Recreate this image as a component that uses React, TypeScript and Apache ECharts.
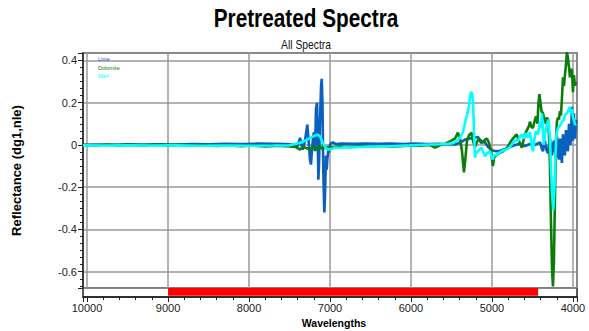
import React, { useEffect, useRef } from 'react';
import * as echarts from 'echarts';

const SANS = "'Liberation Sans', Arial, sans-serif";

const titleText = 'Pretreated Spectra';
const subtitleText = 'All Spectra';
const xName = 'Wavelengths';
const yName = 'Reflectance (dg1,nle)';

const seriesNames = ['Lime', 'Dolomite', 'Marl'];
const seriesColors = ['#0b5fbe', '#0a7d0a', '#00ffff'];
const xTicks = [10000, 9000, 8000, 7000, 6000, 5000, 4000];
const yTicks = [0.4, 0.2, 0, -0.2, -0.4, -0.6];
const xRange = [3950, 10050];
const yRange = [-0.677, 0.435];
const selectedRange = [9000, 4430];

const limeData = [
  [10050, 0.001], [9900, 0.002], [9700, 0.001], [9500, 0.003], [9300, 0.002], [9100, 0.003],
  [8900, 0.002], [8700, 0.004], [8500, 0.003], [8300, 0.005], [8100, 0.004], [7900, 0.006],
  [7700, 0.005], [7550, 0.004], [7450, 0.002], [7400, -0.006], [7385, 0.012], [7370, 0.034],
  [7355, 0.005], [7337, -0.022], [7320, 0.004], [7309, 0.02], [7290, 0.07], [7280, 0.096],
  [7262, 0.01], [7247, -0.07], [7235, -0.093], [7222, -0.02], [7210, 0.03], [7198, 0.06],
  [7185, -0.03], [7173, 0.17], [7160, 0.2], [7152, 0.05], [7144, -0.165], [7136, -0.1],
  [7123, 0.12], [7110, 0.28], [7102, 0.313], [7093, 0.2], [7083, -0.12], [7070, -0.32],
  [7062, -0.24], [7050, -0.05], [7041, -0.117], [7031, -0.06], [7020, -0.02], [7012, -0.037],
  [7000, 0.0], [6988, 0.008], [6963, 0.012], [6926, 0.004], [6850, 0.006], [6700, 0.005],
  [6550, 0.007], [6400, 0.005], [6250, 0.006], [6100, 0.004], [5950, 0.006], [5800, 0.004],
  [5650, 0.005], [5550, 0.003], [5457, 0.002], [5395, 0.01], [5333, 0.025], [5272, 0.03],
  [5210, 0.035], [5173, 0.038], [5136, 0.01], [5099, 0.02], [5049, -0.01], [5000, -0.025],
  [4951, -0.03], [4901, -0.028], [4840, -0.02], [4778, -0.01], [4716, 0.0], [4654, 0.005],
  [4593, -0.005], [4531, 0.004], [4469, 0.0], [4407, 0.012], [4383, -0.02], [4370, -0.03],
  [4358, 0.01], [4346, 0.02], [4330, -0.02], [4309, -0.04], [4296, 0.0], [4284, 0.03],
  [4272, -0.02], [4259, -0.05], [4247, 0.0], [4235, 0.02], [4222, -0.03], [4210, -0.06],
  [4204, 0.0], [4198, 0.04], [4185, -0.02], [4173, -0.07], [4166, 0.0], [4160, 0.03],
  [4148, -0.04], [4136, -0.085], [4130, 0.0], [4123, 0.05], [4111, -0.01], [4099, -0.05],
  [4092, 0.02], [4086, 0.07], [4074, 0.0], [4062, -0.03], [4055, 0.04], [4049, 0.1],
  [4040, 0.03], [4031, 0.0], [4020, 0.1], [4012, 0.18], [4006, 0.08], [4000, 0.02],
  [3994, 0.09], [3988, 0.15], [3982, 0.07], [3975, 0.03], [3968, 0.08], [3960, 0.12],
];

const dolomiteData = [
  [10050, 0.0], [9900, -0.003], [9750, 0.002], [9600, -0.002], [9450, 0.001], [9300, -0.003],
  [9150, 0.002], [9000, -0.002], [8850, 0.001], [8700, -0.004], [8550, 0.0], [8400, -0.005],
  [8250, -0.002], [8100, -0.006], [7950, -0.003], [7800, -0.007], [7650, -0.004], [7500, -0.007],
  [7420, -0.01], [7370, -0.022], [7333, -0.008], [7296, -0.015], [7247, -0.02], [7210, -0.01],
  [7173, -0.025], [7136, -0.005], [7099, -0.018], [7062, -0.01], [7000, -0.012], [6877, -0.008],
  [6750, -0.01], [6630, -0.006], [6500, -0.008], [6383, -0.004], [6250, -0.007], [6136, -0.006],
  [6000, -0.003], [5889, -0.004], [5765, 0.0], [5704, -0.013], [5642, -0.002], [5580, 0.005],
  [5519, 0.017], [5457, 0.03], [5420, 0.058], [5395, 0.03], [5370, -0.03], [5346, -0.13],
  [5327, -0.06], [5309, 0.02], [5284, 0.045], [5253, 0.058], [5235, 0.02], [5210, -0.01],
  [5185, 0.015], [5160, 0.03], [5136, 0.02], [5111, 0.01], [5086, 0.025], [5062, 0.03],
  [5037, 0.01], [5012, -0.03], [4988, -0.1], [4975, -0.06], [4951, -0.05], [4914, -0.04],
  [4864, -0.03], [4815, -0.015], [4778, 0.01], [4741, 0.03], [4695, 0.05], [4667, 0.02],
  [4630, -0.013], [4605, 0.03], [4593, 0.05], [4568, 0.07], [4543, 0.09], [4531, 0.11],
  [4512, 0.085], [4494, 0.08], [4469, 0.12], [4457, 0.135], [4438, 0.1], [4426, 0.2],
  [4414, 0.24], [4401, 0.2], [4389, 0.16], [4370, 0.15], [4358, 0.13], [4333, 0.1],
  [4321, 0.13], [4309, 0.12], [4296, 0.05], [4284, -0.1], [4272, -0.35], [4259, -0.58],
  [4247, -0.67], [4235, -0.55], [4222, -0.25], [4210, 0.02], [4198, 0.11], [4185, 0.13],
  [4173, 0.12], [4160, 0.16], [4148, 0.14], [4136, 0.22], [4123, 0.32], [4111, 0.28],
  [4099, 0.33], [4086, 0.38], [4074, 0.44], [4062, 0.41], [4049, 0.37], [4037, 0.32],
  [4025, 0.36], [4012, 0.35], [4000, 0.25], [3988, 0.33], [3975, 0.28], [3960, 0.3],
];

const marlData = [
  [10050, -0.002], [9800, -0.003], [9500, -0.002], [9200, -0.003], [8900, -0.002], [8600, -0.004],
  [8300, -0.003], [8000, -0.004], [7700, -0.003], [7500, -0.002], [7494, 0.0], [7370, 0.01],
  [7309, 0.02], [7247, 0.032], [7198, 0.042], [7148, 0.049], [7123, 0.04], [7099, 0.02],
  [7074, 0.0], [7049, -0.015], [7025, -0.022], [6988, -0.02], [6938, -0.012], [6877, -0.015],
  [6815, -0.01], [6753, -0.012], [6630, -0.01], [6506, -0.008], [6383, -0.007], [6259, -0.006],
  [6136, -0.004], [6012, -0.002], [5889, 0.0], [5765, 0.002], [5642, 0.003], [5543, 0.005],
  [5481, 0.008], [5432, 0.02], [5395, 0.034], [5358, 0.06], [5333, 0.105], [5309, 0.14],
  [5284, 0.183], [5272, 0.23], [5259, 0.25], [5247, 0.245], [5235, 0.21], [5222, 0.07],
  [5210, -0.06], [5198, -0.04], [5173, -0.03], [5148, -0.02], [5127, -0.013], [5111, -0.03],
  [5086, -0.054], [5062, -0.04], [5025, -0.03], [4991, -0.07], [4975, -0.05], [4942, -0.046],
  [4901, -0.035], [4864, -0.026], [4815, -0.02], [4778, -0.01], [4741, 0.01], [4695, 0.025],
  [4679, 0.017], [4654, 0.04], [4630, 0.05], [4605, 0.03], [4580, 0.055], [4556, 0.035],
  [4531, 0.06], [4506, -0.01], [4494, -0.03], [4475, 0.03], [4457, 0.065], [4432, 0.05],
  [4407, 0.11], [4395, 0.08], [4383, 0.15], [4370, 0.06], [4358, 0.0], [4346, 0.05],
  [4321, 0.096], [4302, 0.12], [4284, 0.03], [4272, -0.1], [4259, -0.22], [4243, -0.31],
  [4228, -0.2], [4216, -0.05], [4204, 0.05], [4185, 0.08], [4160, 0.09], [4136, 0.11],
  [4111, 0.12], [4099, 0.143], [4074, 0.15], [4062, 0.16], [4037, 0.18], [4025, 0.15],
  [4012, 0.17], [4000, 0.13], [3988, 0.12], [3975, 0.096], [3960, 0.1],
];

const seriesData = [limeData, dolomiteData, marlData];

export default function App() {
  const ref = useRef<HTMLDivElement>(null);
  useEffect(() => {
    document.body.style.margin = '0';
    if (!ref.current) return;
    const chart = echarts.init(ref.current, undefined, { renderer: 'svg' });
    const xLabelFmt = (v: number) => (xTicks.some((t) => Math.abs(t - v) < 1e-6) ? String(v) : '');
    const yLabelFmt = (v: number) => {
      const t = yTicks.find((k) => Math.abs(k - v) < 1e-6);
      return t === undefined ? '' : String(t);
    };
    chart.setOption({
      animation: false,
      backgroundColor: '#ffffff',
      graphic: [
        {
          type: 'text',
          x: 306,
          y: 18,
          scaleX: 0.83,
          style: {
            text: titleText,
            fontFamily: SANS,
            fontWeight: 'bold',
            fontSize: 25,
            fill: '#000',
            align: 'center',
            verticalAlign: 'middle',
          },
        },
        {
          type: 'text',
          x: 306,
          y: 45,
          scaleX: 0.86,
          style: {
            text: subtitleText,
            fontFamily: SANS,
            fontSize: 12,
            fill: '#111',
            align: 'center',
            verticalAlign: 'middle',
          },
        },
      ],
      legend: {
        orient: 'vertical',
        left: 93,
        top: 56,
        icon: 'none',
        itemWidth: 0,
        itemHeight: 5,
        itemGap: 2.5,
        padding: 0,
        selectedMode: false,
        textStyle: { fontFamily: SANS, fontSize: 5.5, padding: 0 },
        data: seriesNames.map((n, i) => ({ name: n, textStyle: { color: seriesColors[i] } })),
      },
      grid: [
        { left: 83, right: 12, top: 53, height: 235, show: true, borderColor: '#222', borderWidth: 1.5, backgroundColor: '#fff', outerBoundsMode: 'none', containLabel: false },
        { left: 83, right: 12, top: 288, height: 9, show: true, borderColor: '#222', borderWidth: 1.5, backgroundColor: '#fff', outerBoundsMode: 'none', containLabel: false },
      ],
      xAxis: [
        {
          type: 'value',
          gridIndex: 0,
          min: xRange[0],
          max: xRange[1],
          inverse: true,
          axisLine: { show: false },
          axisTick: { show: false },
          axisLabel: { show: false },
          splitLine: { show: true, lineStyle: { color: '#9a9a9a', width: 1.5 } },
        },
        {
          type: 'value',
          gridIndex: 1,
          min: xRange[0],
          max: xRange[1],
          inverse: true,
          position: 'bottom',
          name: xName,
          nameLocation: 'middle',
          nameGap: 20,
          nameTextStyle: { fontFamily: SANS, fontWeight: 'bold', fontSize: 10.5, color: '#000', padding: [0, 0, 0, 8] },
          axisLine: { show: true, lineStyle: { color: '#222', width: 1.5 } },
          axisTick: { show: true, length: 5, lineStyle: { color: '#222', width: 1 } },
          minorTick: { show: true, splitNumber: 5, length: 3, lineStyle: { color: '#222', width: 1 } },
          axisLabel: { formatter: xLabelFmt, fontFamily: SANS, fontSize: 11, color: '#222', margin: 5, hideOverlap: false },
          splitLine: { show: false },
        },
      ],
      yAxis: [
        {
          type: 'value',
          gridIndex: 0,
          min: yRange[0],
          max: yRange[1],
          name: yName,
          nameLocation: 'middle',
          nameRotate: 90,
          nameGap: 60,
          nameTextStyle: { fontFamily: SANS, fontWeight: 'bold', fontSize: 13, color: '#000' },
          axisLine: { show: true, lineStyle: { color: '#222', width: 1.5 } },
          axisTick: { show: true, length: 5, lineStyle: { color: '#222', width: 1 } },
          minorTick: { show: true, splitNumber: 6, length: 3, lineStyle: { color: '#222', width: 1 } },
          axisLabel: { formatter: yLabelFmt, fontFamily: SANS, fontSize: 11, color: '#222', margin: 6 },
          splitLine: { show: true, lineStyle: { color: '#9a9a9a', width: 1.5 } },
        },
        { type: 'value', gridIndex: 1, min: 0, max: 1, show: false },
      ],
      series: [
        ...seriesNames.map((n, i) => ({
          name: n,
          type: 'line',
          xAxisIndex: 0,
          yAxisIndex: 0,
          data: seriesData[i],
          showSymbol: false,
          symbol: 'none',
          color: seriesColors[i],
          lineStyle: { color: seriesColors[i], width: 2.6 },
          clip: true,
          silent: true,
        })),
        {
          name: 'range',
          type: 'line',
          xAxisIndex: 1,
          yAxisIndex: 1,
          data: [[selectedRange[0], 0.5]],
          symbol: 'none',
          lineStyle: { opacity: 0 },
          silent: true,
          markArea: {
            silent: true,
            itemStyle: { color: '#ff0000' },
            data: [[{ coord: [selectedRange[0], 0.15] }, { coord: [selectedRange[1], 1] }]],
          },
        },
      ],
    });
    return () => chart.dispose();
  }, []);
  return <div ref={ref} style={{ width: 589, height: 331 }} />;
}
